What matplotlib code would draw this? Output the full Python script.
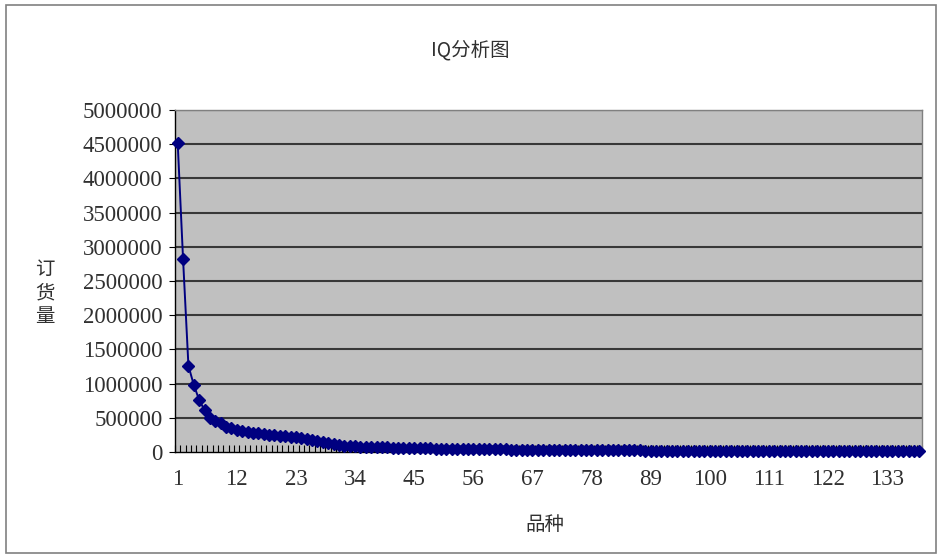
import matplotlib
matplotlib.use("Agg")
import matplotlib.pyplot as plt
from matplotlib.patches import Rectangle
from matplotlib.ticker import FixedLocator

# --- data: order quantity per item (sorted) ---
head_values = [4520000, 2820000, 1260000, 980000, 760000, 610000, 500000, 450000,
               420000, 370000, 345000, 320000, 305000, 295000, 285000, 275000,
               265000, 255000, 248000, 240000, 232000, 222000, 212000, 200000,
               188000, 175000, 160000, 145000, 130000, 118000, 105000, 95000,
               88000, 82000]
tail_values = [78000, 75000, 72000, 70000, 68000, 66000, 64000, 62000, 60000, 58000, 56000,
               55000, 53000, 52000, 50000, 49000, 48000, 46000, 45000, 44000, 43000, 42000,
               41000, 40000, 39000, 38000, 37500, 37000, 36000, 35000, 34500, 34000, 33000,
               32500, 32000, 31000, 30500, 30000, 29500, 29000, 28000, 27500, 27000, 26500,
               26000, 25500, 25000, 24500, 24000, 23500, 23000, 22500, 22000, 21500, 21000,
               20800, 20500, 20200, 20000, 19700, 19400, 19000, 18800, 18500, 18200, 18000,
               17700, 17400, 17200, 17000, 16700, 16400, 16200, 16000, 15700, 15500, 15200,
               15000, 14800, 14500, 14300, 14000, 13800, 13600, 13400, 13200, 13000, 12800,
               12600, 12400, 12200, 12000, 11800, 11600, 11400, 11200, 11000, 10800, 10600,
               10400, 10200, 10000, 9800, 9500, 9000]
order_qty = head_values + tail_values
items = list(range(1, len(order_qty) + 1))

x_tick_labels = list(range(1, len(order_qty) + 1, 11))   # 1, 12, 23, ... 133
y_ticks = list(range(0, 5000001, 500000))

cjk = ['Noto Sans CJK SC', 'DejaVu Sans']
serif = 'Liberation Serif'

# --- figure ---
fig = plt.figure(figsize=(9.39, 5.59), dpi=100)
fig.patch.set_facecolor('white')

# outer chart frame (like excel chart area border)
frame = Rectangle((6 / 939, 6 / 559), 930 / 939, 548 / 559, transform=fig.transFigure,
                  fill=False, edgecolor='#808080', linewidth=1.2)
fig.patches.append(frame)

ax = fig.add_axes([175 / 939, 1 - 452 / 559, 747 / 939, 342 / 559])
ax.set_facecolor('#C0C0C0')

# horizontal gridlines
for yv in y_ticks[1:]:
    ax.axhline(yv, color='#383838', linewidth=1.5, zorder=1)

ax.plot(items, order_qty, color='#000080', linewidth=1.4, marker='D',
        markersize=6, markerfacecolor='#000080', markeredgecolor='#000080', zorder=3,
        clip_on=False)

ax.set_xlim(0.5, len(order_qty) + 0.5)
ax.set_ylim(0, 5000000)

# x axis: labels every 11 items, small tick between every category
ax.xaxis.set_major_locator(FixedLocator(x_tick_labels))
ax.set_xticklabels([str(v) for v in x_tick_labels])
ax.xaxis.set_minor_locator(FixedLocator([i + 0.5 for i in range(0, len(order_qty) + 1)]))
ax.tick_params(axis='x', which='major', length=0, pad=12)
ax.tick_params(axis='x', which='minor', direction='in', length=5, width=0.8, color='black')

ax.set_yticks(y_ticks)
ax.set_yticklabels([str(v) for v in y_ticks])
ax.tick_params(axis='y', which='major', direction='out', length=4, width=0.8, pad=5)

for lab in ax.get_xticklabels() + ax.get_yticklabels():
    lab.set_fontfamily(serif)
    lab.set_fontsize(16.5)
    lab.set_color('#303030')

# spines: black axes on left/bottom, gray border top/right
ax.spines['left'].set_color('black')
ax.spines['bottom'].set_color('black')
ax.spines['top'].set_color('#808080')
ax.spines['right'].set_color('#808080')
for s in ax.spines.values():
    s.set_linewidth(1.0)

# titles and labels
fig.text(470 / 939, 1 - 50 / 559, 'IQ分析图', ha='center', va='center',
         fontsize=14, family=cjk, color='#303030')
fig.text(545 / 939, 1 - 525 / 559, '品种', ha='center', va='center',
         fontsize=14, family=cjk, color='#303030')
fig.text(45 / 939, 1 - 293 / 559, '订\n货\n量', ha='center', va='center',
         fontsize=14, family=cjk, color='#303030', linespacing=1.15)

fig.savefig('out.png', dpi=100)
